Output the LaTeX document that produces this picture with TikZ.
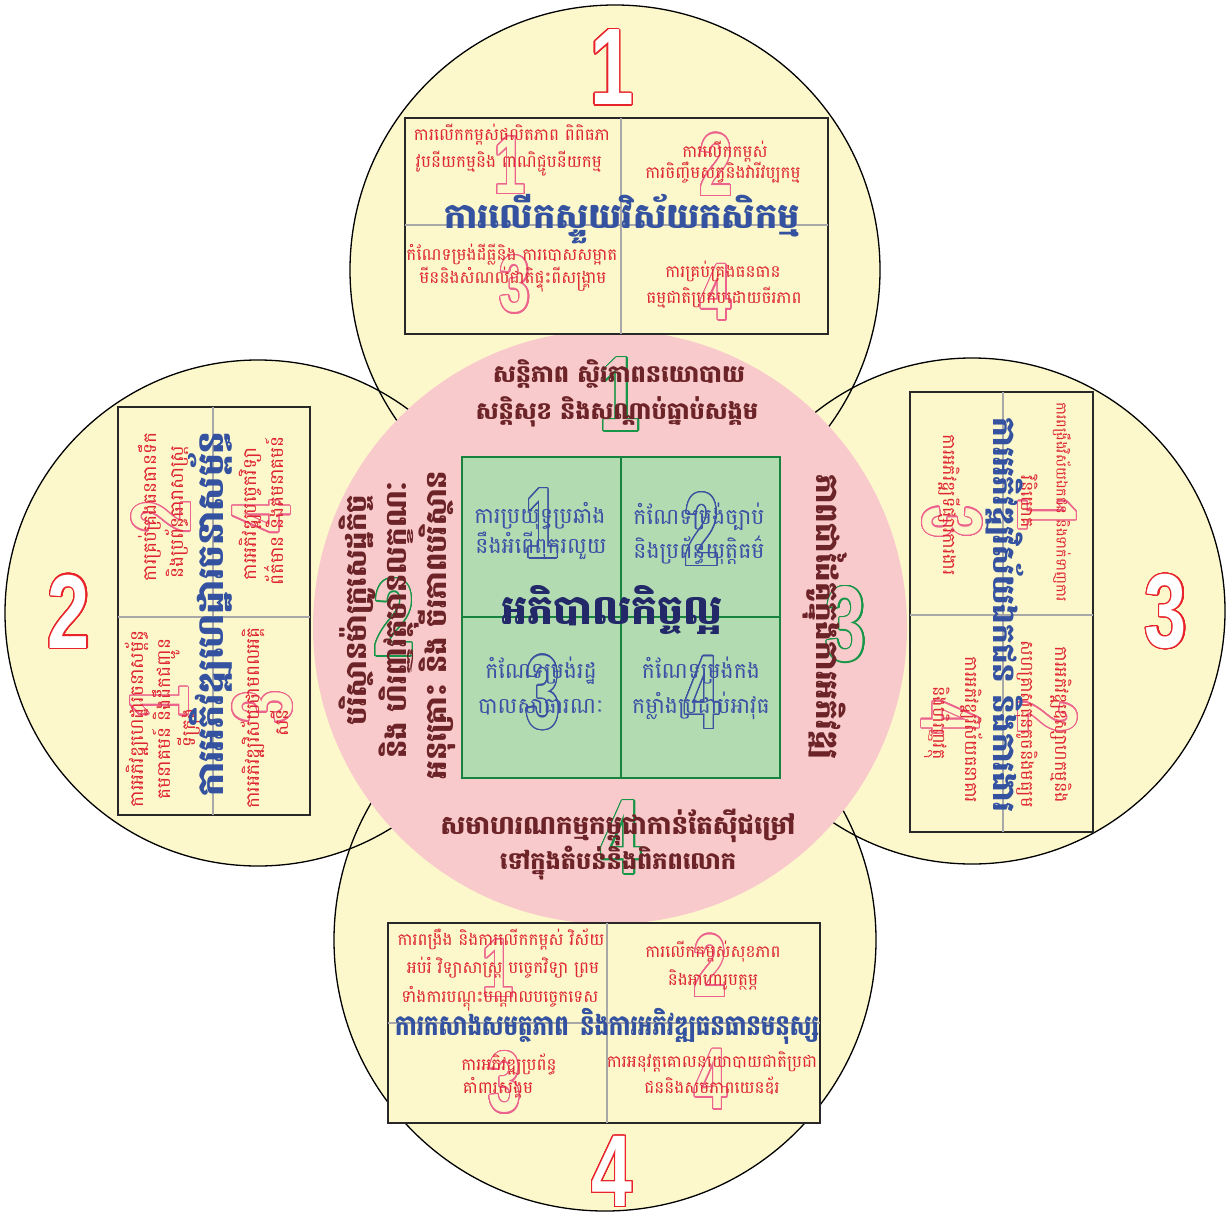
\documentclass[tikz,border=0pt]{standalone}
\usepackage{fontspec}
\usepackage{graphicx}
\usepackage{contour}
\newfontfamily\khmer[Script=Khmer]{Battambang}
\newfontfamily\digfont{Liberation Sans}
\definecolor{ybg}{RGB}{252,248,204}
\definecolor{pinkc}{RGB}{249,202,203}
\definecolor{sqfill}{RGB}{178,219,178}
\definecolor{sqline}{RGB}{22,132,62}
\definecolor{gridc}{RGB}{168,168,168}
\definecolor{boxc}{RGB}{40,40,40}
\definecolor{redc}{RGB}{222,38,52}
\definecolor{bluec}{RGB}{52,82,160}
\definecolor{navyc}{RGB}{35,40,105}
\definecolor{brownc}{RGB}{108,36,40}
\definecolor{sqtc}{RGB}{60,80,165}
\definecolor{bigred}{RGB}{232,35,42}
\definecolor{pinkd}{RGB}{236,100,142}
\definecolor{greend}{RGB}{22,150,70}
\definecolor{blued}{RGB}{60,80,160}
\contourlength{1.2pt}
\contournumber{32}
\newcommand{\odig}[5]{{\digfont\bfseries\fontsize{#1}{#1}\selectfont\textcolor{#3}{\contour{#2}{\scalebox{#4}[1]{#5}}}}}
\newcommand{\kf}[1]{\khmer\fontsize{#1}{#1}\selectfont}
\newcommand{\kfb}[1]{\khmer\bfseries\fontsize{#1}{#1}\selectfont}
\tikzset{
  redt/.style={inner sep=0pt, anchor=mid, text=redc, font=\kf{16.8}},
  sidel/.style={inner sep=0pt, anchor=mid, text=redc, font=\kf{18.5}, rotate=90},
  sider/.style={inner sep=0pt, anchor=mid, text=redc, font=\kf{17.5}, rotate=-90},
  ttl/.style={inner sep=0pt, anchor=mid, text=bluec, font=\kfb{35}},
  pinkt/.style={inner sep=0pt, anchor=mid, text=brownc, font=\kfb{24}},
  sqt/.style={inner sep=0pt, anchor=mid, text=sqtc, font=\kf{22}},
  cent/.style={inner sep=0pt, anchor=mid, text=navyc, font=\kfb{41}},
  dignode/.style={inner sep=0pt, anchor=center},
  boxr/.style={draw=boxc, line width=1.8pt, fill=ybg},
  gridl/.style={draw=gridc, line width=1.2pt},
}
\begin{document}
\begin{tikzpicture}[x=1pt,y=-1pt]
\useasboundingbox (0,0) rectangle (1228,1215);
\fill[white] (0,0) rectangle (1228,1215);
% yellow circles
\fill[ybg] (615,270) circle (265);
\fill[ybg] (605,940) circle (271);
\fill[ybg] (258,613) circle (253);
\fill[ybg] (972,611) circle (253);
\draw[black, line width=1.3pt] (615,270) circle (265);
\draw[black, line width=1.3pt] (605,940) circle (271);
\draw[black, line width=1.3pt] (258,613) circle (253);
\draw[black, line width=1.3pt] (972,611) circle (253);
% pink circle
\fill[pinkc] (610,627) circle (297);
% boxes
\draw[boxr] (405,118) rectangle (828,334);
\draw[gridl] (621,118) -- (621,334);
\draw[gridl] (405,225) -- (828,225);
\draw[boxr] (388,923) rectangle (820,1123);
\draw[gridl] (607,923) -- (607,1123);
\draw[gridl] (388,1023) -- (820,1023);
\draw[boxr] (118,407) rectangle (310,815);
\draw[gridl] (213,407) -- (213,815);
\draw[gridl] (118,617) -- (310,617);
\draw[boxr] (910,392) rectangle (1093,832);
\draw[gridl] (1003,392) -- (1003,832);
\draw[gridl] (910,615) -- (1093,615);
% green square
\draw[draw=sqline, line width=1.8pt, fill=sqfill] (462,457) rectangle (780,778);
\draw[sqline, line width=1.5pt] (621,457) -- (621,778);
\draw[sqline, line width=1.5pt] (462,617) -- (780,617);

% big red digits
\node[dignode] (B1) at (612,68) {\odig{109}{bigred}{white}{0.72}{1}};
\node[dignode] (B2) at (69,612) {\odig{105}{bigred}{white}{0.72}{2}};
\node[dignode] (B3) at (1166,612) {\odig{105}{bigred}{white}{0.72}{3}};
\node[dignode] (B4) at (612,1172) {\odig{102}{bigred}{white}{0.72}{4}};

% top box digits
\node[dignode] (T1d) at (510,166) {\odig{82}{pinkd}{ybg}{0.68}{1}};
\node[dignode] (T2d) at (716,165) {\odig{88}{pinkd}{ybg}{0.68}{2}};
\node[dignode] (T3d) at (515,285) {\odig{80}{pinkd}{ybg}{0.68}{3}};
\node[dignode] (T4d) at (716,293) {\odig{80}{pinkd}{ybg}{0.68}{4}};
% bottom box digits
\node[dignode] (D1d) at (498,969) {\odig{82}{pinkd}{ybg}{0.68}{1}};
\node[dignode] (D2d) at (710,966) {\odig{88}{pinkd}{ybg}{0.68}{2}};
\node[dignode] (D3d) at (505,1083) {\odig{86}{pinkd}{ybg}{0.68}{3}};
\node[dignode] (D4d) at (711,1080) {\odig{86}{pinkd}{ybg}{0.68}{4}};
% left box digits
\node[dignode, rotate=90] (L2d) at (162,517) {\odig{84}{pinkd}{ybg}{0.68}{2}};
\node[dignode, rotate=90] (L4d) at (262,517) {\odig{84}{pinkd}{ybg}{0.68}{4}};
\node[dignode, rotate=90] (L1d) at (160,702) {\odig{84}{pinkd}{ybg}{0.68}{1}};
\node[dignode, rotate=90] (L3d) at (263,707) {\odig{84}{pinkd}{ybg}{0.68}{3}};
% right box digits
\node[dignode, rotate=-90] (R1d) at (1047,514) {\odig{84}{pinkd}{ybg}{0.68}{1}};
\node[dignode, rotate=-90] (R3d) at (952,522) {\odig{84}{pinkd}{ybg}{0.68}{3}};
\node[dignode, rotate=-90] (R2d) at (1047,717) {\odig{84}{pinkd}{ybg}{0.68}{2}};
\node[dignode, rotate=-90] (R4d) at (950,717) {\odig{84}{pinkd}{ybg}{0.68}{4}};
% pink circle digits
\node[dignode] (P1d) at (620,395) {\odig{106}{greend}{pinkc}{0.68}{1}};
\node[dignode] (P2d) at (394,618) {\odig{110}{greend}{pinkc}{0.68}{2}};
\node[dignode] (P3d) at (846,625) {\odig{106}{greend}{pinkc}{0.68}{3}};
\node[dignode] (P4d) at (621,838) {\odig{106}{greend}{pinkc}{0.68}{4}};
% square digits
\node[dignode] (S1d) at (542,524) {\odig{100}{blued}{sqfill}{0.6}{1}};
\node[dignode] (S2d) at (702,530) {\odig{104}{blued}{sqfill}{0.6}{2}};
\node[dignode] (S3d) at (543,693) {\odig{104}{blued}{sqfill}{0.6}{3}};
\node[dignode] (S4d) at (702,693) {\odig{104}{blued}{sqfill}{0.6}{4}};

% top box texts
\node[redt] (t11) at (512,138.7) {ការលើកកម្ពស់ផលិតភាព ពិពិធភា};
\node[redt] (t12) at (509,165.7) {វូបនីយកម្មនិង ពាណិជ្ជូបនីយកម្ម};
\node[redt] (t21) at (725,155.7) {ការលើកកម្ពស់};
\node[redt] (t22) at (723,176.7) {ការចិញ្ចឹមសត្វនិងវារីវប្បកម្ម};
\node[redt] (t31) at (512,258.7) {កំណែទម្រង់ដីធ្លីនិង ការបោសសម្អាត};
\node[redt] (t32) at (513,281.7) {មីននិងសំណល់ជាតិផ្ទុះពីសង្គ្រាម};
\node[redt] (t41) at (723,275.7) {ការគ្រប់គ្រងធនធាន};
\node[redt] (t42) at (724,301.7) {ធម្មជាតិប្រកបដោយចីរភាព};
\node[ttl] (ttop) at (622,226) {ការលើកស្ទួយវិស័យកសិកម្ម};

% bottom box texts
\node[redt] (b11) at (501,943.7) {ការពង្រឹង និងការលើកកម្ពស់ វិស័យ};
\node[redt] (b12) at (503,971.7) {អប់រំ វិទ្យាសាស្ត្រ បច្ចេកវិទ្យា ព្រម};
\node[redt] (b13) at (500,1000.7) {ទាំងការបណ្តុះបណ្តាលបច្ចេកទេស};
\node[redt] (b21) at (713,955.7) {ការលើកកម្ពស់សុខភាព};
\node[redt] (b22) at (713,983.7) {និងអាហារូបត្ថម្ភ};
\node[redt] (b31) at (509,1068.7) {ការអភិវឌ្ឍប្រព័ន្ធ};
\node[redt] (b32) at (498,1091.7) {គាំពារសង្គម};
\node[redt] (b41) at (712,1065.7) {ការអនុវត្តគោលនយោបាយជាតិប្រជា};
\node[redt] (b42) at (712,1091.7) {ជននិងសមភាពយេនឌ័រ};
\node[ttl, font=\kfb{28.5}] (tbot) at (607,1033) {\scalebox{0.8}[1]{ការកសាងសមត្ថភាព\hspace{14pt}និងការអភិវឌ្ឍធនធានមនុស្ស}};

% left box texts
\node[sidel] (l21) at (154,507) {ការគ្រប់គ្រងធនធានទឹក};
\node[sidel] (l22) at (181,512) {និងប្រព័ន្ធធារាសាស្ត្រ};
\node[sidel] (l41) at (254,514) {ការអភិវឌ្ឍបច្ចេកវិទ្យា};
\node[sidel] (l42) at (281,511) {ព័ត៌មាន និងគមនាគមន៍};
\node[sidel] (l11) at (141,719) {ការអភិវឌ្ឍហេដ្ឋារចនាសម្ព័ន្ធ};
\node[sidel] (l12) at (168,719) {គមនាគមន៍ និងដឹកជញ្ជូន};
\node[sidel] (l13) at (193,728) {ទីក្រុង};
\node[sidel] (l31) at (257,718) {ការអភិវឌ្ឍវិស័យថាមពលអគ្គិ};
\node[sidel] (l32) at (286,723) {សនី};
\node[ttl, font=\kfb{36}, rotate=90] (tleft) at (221,614) {ការអភិវឌ្ឍហេដ្ឋារចនាសម្ព័ន្ធ};

% right box texts
\node[sider, font=\kf{14.5}] (r11) at (1058.8,502) {ការពង្រឹងវិស័យឯកជន និងទាក់ទាញការ};
\node[sider] (r12) at (1024.1,502) {វិនិយោគ};
\node[sider] (r31) at (946.1,505) {ការអភិវឌ្ឍទីផ្សារការងារ};
\node[sider] (r21) at (1058.1,725) {ការអភិវឌ្ឍឧស្សាហកម្មនិង};
\node[sider] (r22) at (1024.1,724) {សហគ្រាសធុនតូចនិងមធ្យម};
\node[sider] (r41) at (968.1,730) {ការអភិវឌ្ឍវិស័យធនាគារ};
\node[sider] (r42) at (936.1,723) {និងហិរញ្ញវត្ថុ};
\node[ttl, font=\kfb{31}, rotate=-90] (tright) at (996,615) {ការអភិវឌ្ឍវិស័យឯកជន និងការងារ};

% pink circle texts
\node[pinkt] (p11) at (619,380.3) {សន្តិភាព ស្ថិរភាពនយោបាយ};
\node[pinkt] (p12) at (617,417.3) {សន្តិសុខ និងសណ្តាប់ធ្នាប់សង្គម};
\node[pinkt, font=\kfb{26}] (p41) at (618,832.7) {សមាហរណកម្មកម្ពុជាកាន់តែស៊ីជម្រៅ};
\node[pinkt] (p42) at (618,867.3) {ទៅក្នុងតំបន់និងពិភពលោក};
\node[pinkt, font=\kfb{29}, rotate=90] (p21) at (364.4,610) {បរិស្ថានម៉ាក្រូសេដ្ឋកិច្ច};
\node[pinkt, font=\kfb{29}, rotate=90] (p22) at (404.4,620) {និង ហិរញ្ញវត្ថុមានលក្ខណៈ};
\node[pinkt, font=\kfb{29}, rotate=90] (p23) at (444.4,625) {អនុគ្រោះ និង ចីរភាពបរិស្ថាន};
\node[pinkt, font=\kfb{31}, rotate=-90] (p31) at (818.2,617) {ភាពជាដៃគូក្នុងការអភិវឌ្ឍ};

% square texts
\node[sqt] (s11) at (540,521.8) {ការប្រយុទ្ធប្រឆាំង};
\node[sqt] (s12) at (541,551.8) {នឹងអំពើពុករលួយ};
\node[sqt] (s21) at (699,522.8) {កំណែទម្រង់ច្បាប់};
\node[sqt] (s22) at (699,556.8) {និងប្រព័ន្ធយុត្តិធម៌};
\node[sqt] (s31) at (541,676.8) {កំណែទម្រង់រដ្ឋ};
\node[sqt] (s32) at (541,711.8) {បាលសាធារណៈ};
\node[sqt] (s41) at (701,676.8) {កំណែទម្រង់កង};
\node[sqt] (s42) at (701,711.8) {កម្លាំងប្រដាប់អាវុធ};
\node[cent] (tcen) at (612,622) {អភិបាលកិច្ចល្អ};
\end{tikzpicture}
\end{document}
